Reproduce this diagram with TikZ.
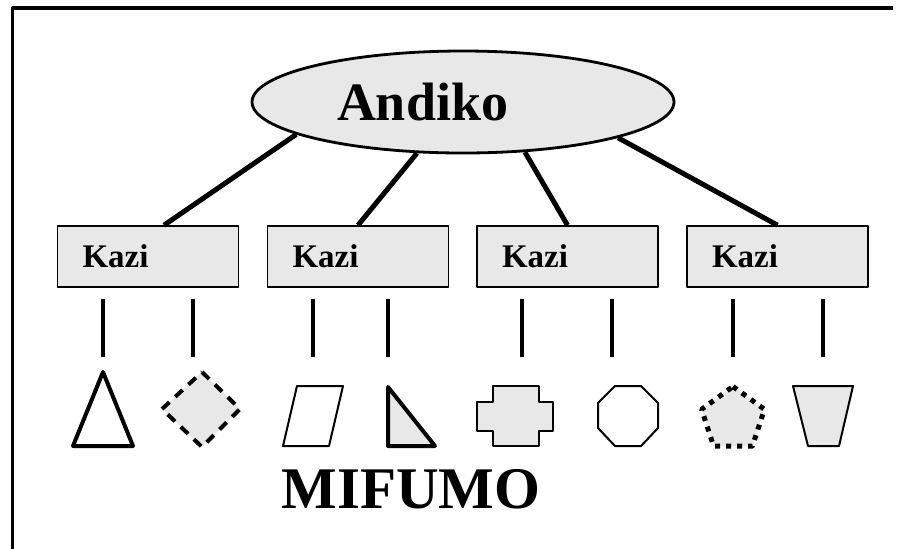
\documentclass[tikz,border=0pt]{standalone}
\usepackage{fontspec}
\setmainfont{Liberation Serif}
\usetikzlibrary{shapes.geometric}
\definecolor{lightfill}{RGB}{232,232,232}
\begin{document}
\begin{tikzpicture}[x=0.5pt,y=-0.5pt,line join=round]
	\tikzset{rootnode/.style={ellipse,draw,line width=1.4pt,fill=lightfill,minimum width=211pt,minimum height=51pt,inner sep=0pt,text width=126pt,align=left,font=\bfseries\fontsize{27}{30}\selectfont},
		kazibox/.style={rectangle,draw,line width=0.8pt,fill=lightfill,minimum width=90.5pt,minimum height=30.5pt,inner xsep=12.5pt,inner ysep=0pt,text width=65.5pt,align=left,font=\bfseries\fontsize{16.5}{18}\selectfont},
		link/.style={line width=2.5pt},
		stem/.style={line width=2.3pt},
		thinshape/.style={line width=1pt}}
	\useasboundingbox (0,0) rectangle (903,548);
	\draw[line width=1.7pt] (12.5,550) -- (12.5,8) -- (893,8);
	\node[rootnode] (andiko) at (463,102) {Andiko};
	\foreach \i/\x in {1/148,2/358,3/567.5,4/777.5}
	\node[kazibox] (kazi\i) at (\x,256.5) {Kazi};
	\draw[link] (andiko.191) -- ([xshift=8pt]kazi1.north);
	\draw[link] (andiko.228) -- (kazi2.north);
	\draw[link] (andiko.321) -- (kazi3.north);
	\draw[link] (andiko.347) -- (kazi4.north);
	\foreach \x in {103,193,313,388,522,612,733,823}
	\draw[stem] (\x,299) -- (\x,357);
	\draw[line width=2pt,fill=white] (103,372) -- (133,446) -- (73,446) -- cycle;
	\draw[line width=2pt,fill=lightfill,dash pattern=on 5pt off 4pt] (202,372) -- (240,409) -- (202,447) -- (162,409) -- cycle;
	\draw[thinshape] (297,386) -- (343,386) -- (329,446) -- (283,446) -- cycle;
	\draw[line width=2pt,fill=lightfill] (388,387) -- (435,446) -- (388,446) -- cycle;
	\draw[thinshape,fill=lightfill] (493,386) -- (539,386) -- (539,402) -- (553,402) -- (553,431) -- (539,431) -- (539,446) -- (493,446) -- (493,431) -- (477,431) -- (477,402) -- (493,402) -- cycle;
	\draw[thinshape] (615,386) -- (641,386) -- (658,403) -- (658,428) -- (641,446) -- (615,446) -- (598,428) -- (598,403) -- cycle;
	\draw[line width=2.5pt,fill=lightfill,dash pattern=on 2.5pt off 3pt] (733,386.5) -- (764.4,409.3) -- (752.4,446.2) -- (713.6,446.2) -- (701.6,409.3) -- cycle;
	\draw[thinshape,fill=lightfill] (793,386) -- (853,386) -- (839,446) -- (808,446) -- cycle;
	\node[font=\bfseries\fontsize{29.5}{32}\selectfont,anchor=base] (mifumo) at (411,508) {MIFUMO};
\end{tikzpicture}
\end{document}
